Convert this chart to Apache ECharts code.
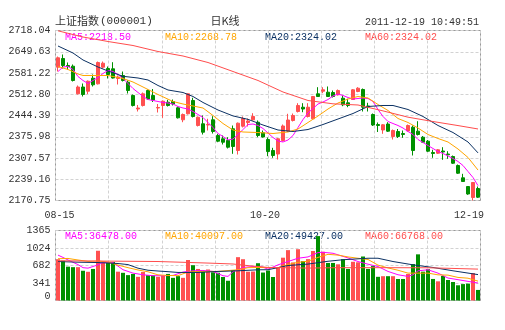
<!DOCTYPE html>
<html><head><meta charset="utf-8">
<script src="https://cdn.jsdelivr.net/npm/echarts@6/dist/echarts.min.js"></script>
<style>html,body{margin:0;padding:0;background:#fff}#c{width:505px;height:330px}</style>
</head><body><div id="c"></div>
<script>
// ---- categories & tick labels ----
const dates = ['08-15','08-16','08-17','08-18','08-19','08-22','08-23','08-24','08-25','08-26','08-29','08-30','08-31',
'09-01','09-02','09-05','09-06','09-07','09-08','09-09','09-13','09-14','09-15','09-16','09-19','09-20','09-21','09-22','09-23','09-26','09-27','09-28','09-29','09-30',
'10-10','10-11','10-12','10-13','10-14','10-17','10-18','10-19','10-20','10-21','10-24','10-25','10-26','10-27','10-28','10-31',
'11-01','11-02','11-03','11-04','11-07','11-08','11-09','11-10','11-11','11-14','11-15','11-16','11-17','11-18','11-21','11-22','11-23','11-24','11-25','11-28','11-29','11-30',
'12-01','12-02','12-05','12-06','12-07','12-08','12-09','12-12','12-13','12-14','12-15','12-16','12-19'];
const xTickLabels = ['08-15','10-20','12-19'];
const priceTicks = ['2170.75','2239.16','2307.57','2375.98','2444.39','2512.80','2581.22','2649.63','2718.04'];
const volTicks = ['0','341','682','1024','1365'];
const priceMin = 2170.75, priceMax = 2718.04, volMax = 1365;

// ---- daily K (open / close / low / high) ----
const openP = [2599.9,2627.9,2605.4,2603.1,2514.3,2536.1,2522.6,2564.5,2546.4,2599.9,
2595.7,2594.7,2563.5,2573.2,2551.6,2508.8,2465.3,2476.6,2524.9,2508.8,
2468.5,2476.6,2487.2,2489.5,2469.2,2430.6,2449.9,2492.7,2412.2,2417.7,
2413.8,2430.6,2380.0,2369.4,2363.9,2401.6,2331.7,2409.9,2421.9,2430.6,
2422.8,2388.7,2367.1,2331.7,2320.4,2363.9,2394.5,2428.3,2457.3,2471.1,
2441.2,2433.8,2514.3,2522.6,2519.4,2518.4,2511.0,2500.1,2485.3,2495.9,
2521.7,2528.1,2475.0,2447.6,2415.4,2397.7,2417.0,2376.8,2392.9,2386.4,
2394.5,2406.7,2393.9,2374.5,2361.7,2325.3,2323.0,2330.1,2320.4,2312.4,
2283.4,2243.8,2215.8,2180.4,2209.4];
const closeP = [2630.2,2605.4,2602.1,2557.1,2536.1,2512.0,2554.8,2543.2,2615.0,2612.8,
2576.4,2565.1,2568.3,2557.1,2524.9,2476.6,2468.5,2514.3,2497.5,2494.3,
2470.2,2490.4,2476.6,2481.4,2437.0,2447.6,2514.3,2441.2,2438.9,2390.6,
2415.4,2392.9,2361.7,2358.4,2342.3,2344.6,2419.6,2434.7,2426.7,2441.2,
2380.0,2375.2,2328.5,2315.6,2369.4,2410.6,2429.9,2444.4,2476.6,2465.3,
2471.1,2505.6,2505.6,2527.1,2505.6,2505.6,2524.9,2478.8,2476.6,2527.1,
2532.3,2471.1,2471.8,2413.8,2412.2,2414.5,2393.9,2396.1,2376.8,2383.2,
2412.2,2331.7,2383.2,2358.4,2329.5,2322.1,2334.0,2326.9,2317.9,2290.8,
2258.6,2231.9,2191.7,2228.7,2181.4];
const lowP = [2586.0,2595.7,2592.5,2553.9,2512.0,2505.6,2513.6,2537.8,2544.2,2595.7,
2563.5,2563.5,2544.2,2553.9,2515.2,2473.4,2457.3,2473.4,2495.9,2487.9,
2454.1,2437.0,2473.4,2476.6,2434.7,2422.8,2447.6,2438.0,2409.0,2383.2,
2396.1,2386.4,2358.4,2351.0,2338.2,2321.1,2318.8,2405.8,2409.0,2428.3,
2374.5,2373.6,2313.4,2308.2,2302.7,2360.7,2391.3,2425.1,2454.1,2455.0,
2438.0,2431.5,2504.0,2516.2,2504.0,2502.3,2508.8,2474.3,2471.1,2494.3,
2519.4,2457.3,2457.3,2410.6,2391.3,2385.5,2391.3,2367.1,2372.0,2372.6,
2392.9,2315.6,2380.0,2355.9,2326.9,2308.2,2320.4,2301.8,2305.0,2288.3,
2256.1,2230.3,2189.1,2170.75,2178.8];
const highP = [2634.3,2640.8,2615.0,2608.6,2541.0,2547.4,2557.1,2576.4,2618.2,2618.2,
2602.1,2616.0,2573.2,2586.0,2557.1,2512.0,2478.2,2518.4,2528.1,2529.7,
2481.4,2492.7,2494.9,2495.9,2473.4,2450.8,2515.2,2501.4,2441.2,2444.4,
2433.8,2442.1,2385.5,2380.0,2374.5,2412.2,2421.9,2441.2,2434.7,2451.8,
2428.3,2396.1,2373.6,2340.4,2372.0,2415.4,2449.9,2450.8,2484.0,2484.0,
2484.0,2507.2,2535.5,2535.5,2537.8,2524.9,2528.1,2508.8,2498.2,2529.7,
2535.5,2531.3,2485.3,2450.8,2421.9,2417.0,2422.8,2399.3,2400.9,2396.1,
2415.4,2412.2,2426.0,2378.4,2365.5,2334.0,2336.5,2342.3,2329.5,2315.6,
2286.6,2256.7,2217.4,2230.3,2215.8];

// ---- price moving averages ----
const ma5 = [2586.0,2600.5,2602.1,2592.5,2569.9,2557.1,2547.4,2557.1,2566.7,2579.6,
2589.3,2586.0,2576.4,2563.5,2547.4,2531.3,2518.4,2505.6,2495.9,2492.7,
2489.5,2486.3,2484.6,2481.4,2473.4,2468.5,2465.3,2457.3,2447.6,2438.0,
2421.9,2405.8,2386.4,2376.8,2365.5,2368.7,2383.2,2399.3,2415.4,2417.0,
2412.2,2402.5,2388.0,2373.6,2362.3,2359.1,2365.5,2380.0,2405.8,2431.5,
2452.4,2466.9,2481.4,2487.9,2495.9,2507.2,2513.6,2508.8,2502.3,2497.5,
2499.1,2500.7,2499.1,2489.5,2463.7,2441.2,2425.1,2418.6,2412.2,2404.1,
2392.9,2383.2,2367.1,2357.5,2347.8,2338.1,2328.5,2322.1,2314.1,2306.0,
2296.3,2283.4,2264.1,2244.8,2218.5];
const ma10 = [[0,2602.1],[2,2592.5],[4,2578.0],[5,2573.2],[10,2573.2],[13,2563.5],[15,2552.2],[18,2528.1],[20,2512.0],[23,2489.5],[25,2481.4],[27,2475.0],[29,2468.5],[31,2444.4],[33,2418.6],[35,2397.7],[37,2391.3],[40,2389.6],[43,2386.4],[46,2391.3],[48,2400.9],[50,2421.9],[52,2442.8],[54,2465.3],[56,2484.6],[58,2497.5],[60,2505.6],[62,2500.7],[64,2479.8],[66,2460.5],[68,2434.7],[70,2421.9],[72,2404.1],[74,2383.2],[76,2370.3],[78,2359.1],[80,2336.5],[82,2309.2],[84,2268.8]];
const ma20 = [[0,2668.1],[3,2645.6],[5,2623.1],[8,2600.5],[10,2587.6],[13,2570.6],[16,2565.1],[18,2558.7],[20,2541.0],[22,2526.5],[25,2518.4],[27,2505.6],[29,2486.3],[32,2462.1],[35,2443.0],[38,2432.0],[41,2413.8],[44,2397.7],[47,2392.9],[50,2399.3],[53,2415.4],[56,2433.1],[59,2450.8],[62,2473.4],[65,2476.6],[67,2476.6],[70,2463.7],[73,2441.2],[76,2412.2],[79,2389.6],[82,2359.1],[84,2324.0]];
const ma60 = [[0,2717.0],[5,2697.1],[10,2682.6],[15,2669.7],[20,2650.4],[25,2635.9],[30,2615.0],[35,2586.0],[40,2557.1],[45,2520.0],[50,2492.7],[55,2482.0],[60,2478.2],[65,2459.2],[70,2439.0],[75,2425.0],[80,2412.0],[84,2401.0]];

// ---- volume and its moving averages ----
const volume = [805,775,660,650,650,580,560,615,970,735,
735,750,562,540,495,518,462,555,495,492,
462,484,518,442,475,442,790,688,615,555,
605,550,542,458,385,595,845,805,562,565,
727,545,585,458,652,835,982,742,1000,768,
807,965,1256,950,732,732,706,806,616,755,
745,858,616,671,462,474,474,474,419,419,
516,710,900,562,610,420,374,478,400,361,
297,320,329,535,206];
const vma5 = [[0,885],[1,840],[2,790],[4,700],[5,640],[6,631],[8,695],[9,740],[11,740],[12,670],[13,600],[15,534],[17,502],[19,483],[21,483],[23,489],[25,554],[27,579],[29,586],[31,567],[33,483],[34,470],[35,560],[37,644],[39,663],[41,650],[42,610],[44,695],[46,760],[48,824],[50,850],[52,934],[53,940],[55,921],[58,830],[60,760],[62,708],[64,663],[66,567],[68,502],[70,470],[71,502],[72,579],[74,599],[76,534],[78,438],[80,406],[82,373],[84,341]];
const vma10 = [[0,815],[2,820],[4,790],[6,762],[8,770],[10,750],[12,690],[14,640],[16,595],[18,560],[20,500],[22,488],[24,485],[26,555],[28,567],[32,567],[36,600],[38,640],[40,644],[42,640],[44,640],[46,700],[48,745],[50,765],[52,840],[54,900],[56,885],[58,850],[60,824],[62,800],[64,690],[66,635],[68,590],[70,534],[74,534],[76,500],[78,495],[80,450],[82,435],[84,378]];
const vma20 = [[0,760],[4,747],[8,740],[12,721],[14,700],[16,630],[18,590],[20,575],[22,562],[24,547],[28,547],[32,567],[36,579],[40,599],[42,600],[46,682],[50,710],[54,765],[57,795],[62,824],[64,824],[67,760],[71,695],[75,644],[79,579],[84,505]];
const vma60 = [[0,775],[10,768],[20,760],[25,745],[30,730],[35,712],[38,680],[42,645],[50,632],[56,640],[65,640],[74,638],[78,628],[84,612]];

// ---- texts ----
const stockName = '上证指数', stockCode = '(000001)', periodTitle = '日K线', stamp = '2011-12-19 10:49:51';
const priceLegend = ['MA5:2218.50','MA10:2268.78','MA20:2324.02','MA60:2324.02'];
const volLegend = ['MA5:36478.00','MA10:40097.00','MA20:49427.00','MA60:66768.00'];

// ---- styles ----
const UP = '#ff5050', DOWN = '#009000';
const MA_COLORS = ['#ff00ff', '#ffa500', '#0b3163', '#ff4d4d'];
const MONO = '"Liberation Mono","DejaVu Sans Mono",monospace';
const CJK = '"Noto Sans CJK SC",sans-serif';
const GRID_LINE = {show: true, lineStyle: {color: '#d2d2d2', type: [3, 2], width: 1}};

const chart = echarts.init(document.getElementById('c'), null, {renderer: 'canvas', width: 505, height: 330});

function maLine(data, color, xi, yi) {
  return {type: 'line', data, xAxisIndex: xi, yAxisIndex: yi, symbol: 'none', showSymbol: false,
    connectNulls: true, silent: true, z: 4, lineStyle: {color, width: 1}, itemStyle: {color}};
}
function helperAxis(gridIndex, max, extra) {
  return Object.assign({type: 'value', gridIndex, min: 0, max, interval: 1,
    axisLine: {show: false}, axisTick: {show: false}, axisLabel: {show: false}, splitLine: GRID_LINE}, extra || {});
}
function txt(x, y, text, color, font, align) {
  return {type: 'text', x, y, z: 0, silent: true,
    style: {text, fill: color, font, align: align || 'left', verticalAlign: 'middle'}};
}

const graphic = [
  txt(55, 21, stockName, '#333', '11px ' + CJK),
  txt(100, 21, stockCode, '#333', '11px ' + MONO),
  txt(225, 21, periodTitle, '#333', '11px ' + CJK, 'center'),
  txt(479, 22, stamp, '#333', '10px ' + MONO, 'right')
];
const legendX = [65, 165, 265, 365];
priceLegend.forEach((t, k) => graphic.push(txt(legendX[k], 37, t, MA_COLORS[k], '10px ' + MONO)));
volLegend.forEach((t, k) => graphic.push(txt(legendX[k], 236, t, MA_COLORS[k], '10px ' + MONO)));

const labelBase = {fontFamily: MONO, fontSize: 10, color: '#333'};
const option = {
  animation: false,
  backgroundColor: '#fff',
  graphic,
  grid: [
    {left: 55.5, top: 30.5, width: 425, height: 170, show: true, borderColor: '#999', borderWidth: 1},
    {left: 55.5, top: 230.5, width: 425, height: 70, show: true, borderColor: '#999', borderWidth: 1}
  ],
  xAxis: [
    {type: 'category', gridIndex: 0, data: dates, boundaryGap: true,
      axisLine: {show: false, onZero: false}, axisTick: {show: false}, splitLine: {show: false},
      axisLabel: {
        interval: (idx, v) => xTickLabels.indexOf(v) >= 0,
        formatter: (v) => '{l' + xTickLabels.indexOf(v) + '|' + v + '}',
        margin: 10, color: '#333',
        rich: {
          l0: Object.assign({padding: [0, 0, 0, 3]}, labelBase),
          l1: Object.assign({padding: [0, 6, 0, 0]}, labelBase),
          l2: Object.assign({padding: [0, 18, 0, 0]}, labelBase)
        }
      }},
    {type: 'category', gridIndex: 1, data: dates, boundaryGap: true,
      axisLine: {show: false, onZero: false}, axisTick: {show: false}, axisLabel: {show: false}, splitLine: {show: false}},
    helperAxis(0, 8),
    helperAxis(1, 8)
  ],
  yAxis: [
    {type: 'value', gridIndex: 0, min: priceMin, max: priceMax, show: false, scale: true},
    {type: 'value', gridIndex: 1, min: 0, max: volMax, show: false},
    helperAxis(0, 8, {position: 'left', axisLabel: Object.assign({show: true, margin: 5,
      formatter: (v) => priceTicks[Math.round(v)]}, labelBase)}),
    helperAxis(1, 4, {position: 'left', axisLabel: Object.assign({show: true, margin: 5,
      formatter: (v) => Math.round(v) === 0 ? '{z|' + volTicks[0] + '}' : volTicks[Math.round(v)],
      rich: {z: Object.assign({padding: [0, 0, 8, 0]}, labelBase)}}, labelBase)})
  ],
  series: [
    {type: 'candlestick', xAxisIndex: 0, yAxisIndex: 0, barWidth: 3, silent: true, z: 2,
      data: openP.map((o, i) => [o, closeP[i], lowP[i], highP[i]]),
      itemStyle: {color: UP, color0: DOWN, borderColor: UP, borderColor0: DOWN, borderWidth: 1}},
    maLine(ma5, MA_COLORS[0], 0, 0),
    maLine(ma10, MA_COLORS[1], 0, 0),
    maLine(ma20, MA_COLORS[2], 0, 0),
    maLine(ma60, MA_COLORS[3], 0, 0),
    {type: 'bar', xAxisIndex: 1, yAxisIndex: 1, barWidth: 4, silent: true, z: 2,
      data: volume.map((v, i) => ({value: v, itemStyle: {color: closeP[i] >= openP[i] ? UP : DOWN}}))},
    maLine(vma5, MA_COLORS[0], 1, 1),
    maLine(vma10, MA_COLORS[1], 1, 1),
    maLine(vma20, MA_COLORS[2], 1, 1),
    maLine(vma60, MA_COLORS[3], 1, 1)
  ]
};
chart.setOption(option);
</script>
</body></html>
